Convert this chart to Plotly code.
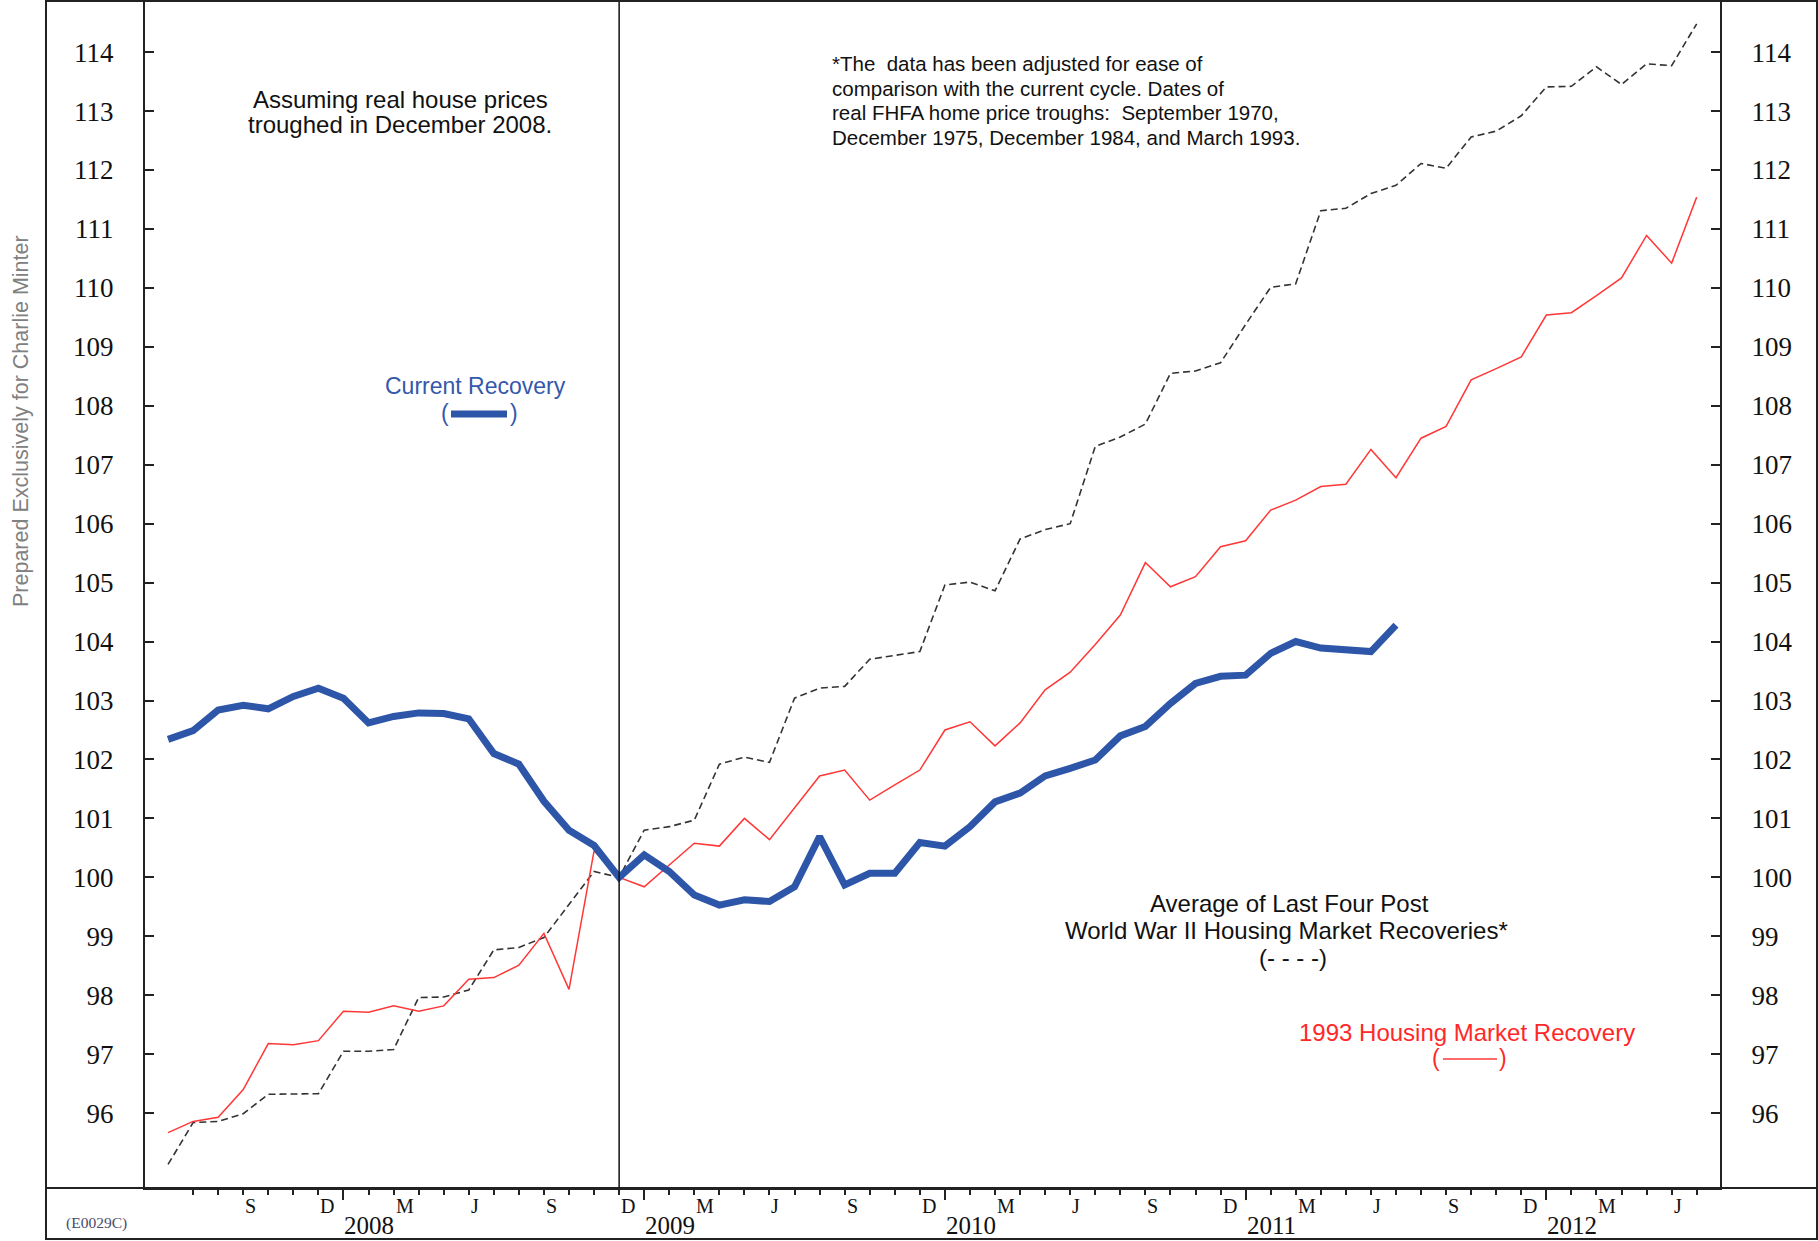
import plotly.graph_objects as go

# ---------------- data ----------------
# month offsets relative to the trough (December 2008 = 0)
months_all = list(range(-18, 44))          # Jun 2007 .. Jul 2012
months_current = list(range(-18, 32))      # Jun 2007 .. Jul 2011

current_recovery = [102.34, 102.49, 102.84, 102.92, 102.86, 103.07, 103.21, 103.04, 102.62, 102.73,
                    102.79, 102.78, 102.69, 102.10, 101.92, 101.29, 100.80, 100.54, 100.00, 100.38,
                    100.10, 99.70, 99.53, 99.62, 99.59, 99.84, 100.69, 99.87, 100.07, 100.07,
                    100.59, 100.53, 100.86, 101.28, 101.43, 101.72, 101.85, 101.99, 102.40, 102.56,
                    102.95, 103.29, 103.41, 103.43, 103.80, 104.00, 103.89, 103.85, 103.83, 104.28]

recovery_1993 = [95.67, 95.86, 95.93, 96.40, 97.18, 97.16, 97.23, 97.73, 97.71, 97.82,
                 97.73, 97.82, 98.27, 98.30, 98.51, 99.05, 98.10, 100.45, 100.00, 99.84,
                 100.21, 100.58, 100.53, 101.00, 100.64, 101.17, 101.72, 101.82, 101.31, 101.57,
                 101.82, 102.50, 102.64, 102.23, 102.62, 103.18, 103.48, 103.95, 104.45, 105.34,
                 104.93, 105.10, 105.61, 105.71, 106.23, 106.40, 106.63, 106.67, 107.26, 106.78,
                 107.45, 107.65, 108.44, 108.63, 108.83, 109.54, 109.58, 109.87, 110.17, 110.89,
                 110.42, 111.54]

avg_four_postwar = [95.13, 95.84, 95.86, 95.99, 96.32, 96.32, 96.33, 97.05, 97.05, 97.08,
                    97.96, 97.97, 98.09, 98.77, 98.81, 98.98, 99.53, 100.10, 100.00, 100.80,
                    100.86, 100.97, 101.92, 102.04, 101.95, 103.04, 103.21, 103.24, 103.70, 103.77,
                    103.83, 104.96, 105.01, 104.86, 105.74, 105.90, 106.00, 107.31, 107.47, 107.69,
                    108.55, 108.59, 108.73, 109.38, 110.01, 110.07, 111.31, 111.35, 111.60, 111.74,
                    112.11, 112.03, 112.56, 112.66, 112.92, 113.41, 113.42, 113.75, 113.45, 113.80,
                    113.77, 114.48]

trough_month = 0
month_tick_vals = list(range(-17, 44))
year_tick_vals = [-11, 1, 13, 25, 37]
year_labels = ["2008", "2009", "2010", "2011", "2012"]
month_label_vals = [-15, -12, -9, -6, -3, 0, 3, 6, 9, 12, 15, 18, 21, 24, 27, 30, 33, 36, 39, 42]
month_labels = ["S", "D", "M", "J", "S", "D", "M", "J", "S", "D",
                "M", "J", "S", "D", "M", "J", "S", "D", "M", "J"]
y_tick_vals = list(range(96, 115))

# ---------------- layout helpers (pixels -> paper) ----------------
W, H = 1818, 1241
ML, MR, MT, MB = 145, 98, 2, 53
PW, PH = W - ML - MR, H - MT - MB


def px(x):
    return (x - ML) / PW


def py(y):
    return (H - MB - y) / PH


SANS = "Liberation Sans, Arial, sans-serif"
SERIF = "Liberation Serif, Times New Roman, serif"
BLUE = "rgb(46,86,168)"
RED = "rgb(255,55,55)"
INK = "#222222"

fig = go.Figure()
fig.add_trace(go.Scatter(x=months_all, y=avg_four_postwar, mode="lines",
                         line=dict(color="#333333", width=1.6, dash="7px,4px"),
                         showlegend=False, hoverinfo="skip"))
fig.add_trace(go.Scatter(x=months_all, y=recovery_1993, mode="lines",
                         line=dict(color=RED, width=1.5), showlegend=False, hoverinfo="skip"))
fig.add_trace(go.Scatter(x=months_current, y=current_recovery, mode="lines",
                         line=dict(color=BLUE, width=7), showlegend=False, hoverinfo="skip"))
# registers the right-hand value axis
fig.add_trace(go.Scatter(x=[None], y=[None], yaxis="y2", showlegend=False, hoverinfo="skip"))

yr = [94.73, 114.85]
xr = [-18.92, 43.93]

common_y = dict(range=yr, tickmode="array", tickvals=y_tick_vals, ticks="inside", ticklen=9,
                tickwidth=2, tickcolor=INK, showline=True, linecolor=INK, linewidth=2,
                showgrid=False, zeroline=False, tickfont=dict(family=SERIF, size=27, color="#111"),
                ticklabelstandoff=24)

fig.update_layout(
    width=W, height=H, margin=dict(l=ML, r=MR, t=MT, b=MB),
    paper_bgcolor="white", plot_bgcolor="white", showlegend=False,
    xaxis=dict(range=xr, tickmode="array", tickvals=year_tick_vals, ticks="outside", ticklen=10,
               tickwidth=2, tickcolor=INK, showticklabels=False, showline=True, linecolor=INK,
               linewidth=2, showgrid=False, zeroline=False,
               minor=dict(tickmode="array", tickvals=month_tick_vals, ticks="outside", ticklen=5,
                          tickwidth=2, tickcolor=INK, showgrid=False)),
    yaxis=dict(side="left", **common_y),
    yaxis2=dict(side="right", overlaying="y", anchor="x", **common_y),
)

annotations = []
for v, t in zip(month_label_vals, month_labels):
    annotations.append(dict(x=v, xref="x", y=py(1206), yref="paper", text=t, showarrow=False,
                            xanchor="left", yanchor="middle",
                            font=dict(family=SERIF, size=20, color="#111")))
for v, t in zip(year_tick_vals, year_labels):
    annotations.append(dict(x=v, xref="x", y=py(1225), yref="paper", text=t, showarrow=False,
                            xanchor="left", yanchor="middle", borderpad=0,
                            font=dict(family=SERIF, size=25, color="#111")))


def txt(text, x, y, size, color="#111", anchor="center", family=SANS, angle=0):
    annotations.append(dict(x=px(x), xref="paper", y=py(y), yref="paper", text=text,
                            showarrow=False, xanchor=anchor, yanchor="middle", textangle=angle,
                            font=dict(family=family, size=size, color=color)))


txt("Assuming real house prices", 400, 99, 24)
txt("troughed in December 2008.", 400, 125, 24)
fn_lines = ["*The  data has been adjusted for ease of",
            "comparison with the current cycle. Dates of",
            "real FHFA home price troughs:  September 1970,",
            "December 1975, December 1984, and March 1993."]
for i, line in enumerate(fn_lines):
    txt(line.replace("  ", "&nbsp; "), 830, 64 + i * 24.4, 20.5, anchor="left")

txt("Current Recovery", 475, 386, 23, color="rgb(52,88,170)")
txt("(", 445, 413, 23, color="rgb(52,88,170)")
txt(")", 514, 413, 23, color="rgb(52,88,170)")

txt("Average of Last Four Post", 1289, 903, 24)
txt("World War II Housing Market Recoveries*", 1286, 930, 24)
txt("(- - - -)", 1293, 957, 24)

txt("1993 Housing Market Recovery", 1467, 1032, 24, color="rgb(255,40,40)")
txt("(", 1436, 1058, 23, color="rgb(255,40,40)")
txt(")", 1503, 1058, 23, color="rgb(255,40,40)")

txt("Prepared Exclusively for Charlie Minter", 21, 421, 21.5, color="#808080", angle=-90)
txt("(E0029C)", 96, 1223, 15.5, color="#4a4a6a", family=SERIF)

fig.update_layout(annotations=annotations)

shapes = [
    # outer frame
    dict(type="rect", xref="paper", yref="paper", x0=px(46), x1=px(1817), y0=py(1239), y1=py(1),
         line=dict(color=INK, width=2)),
    # axis baseline extended across the full frame
    dict(type="line", xref="paper", yref="paper", x0=px(46), x1=px(1817), y0=0, y1=0,
         line=dict(color=INK, width=2)),
    # trough marker
    dict(type="line", xref="x", yref="paper", x0=trough_month, x1=trough_month, y0=0, y1=1,
         line=dict(color="#111", width=1.5)),
    # legend keys
    dict(type="line", xref="paper", yref="paper", x0=px(451), x1=px(507), y0=py(414), y1=py(414),
         line=dict(color=BLUE, width=7)),
    dict(type="line", xref="paper", yref="paper", x0=px(1443), x1=px(1497), y0=py(1059), y1=py(1059),
         line=dict(color=RED, width=1.5)),
]
fig.update_layout(shapes=shapes)

fig.write_html("out.html", config={"displayModeBar": False},
               post_script="document.body.style.margin='0';document.body.style.overflow='hidden';")
